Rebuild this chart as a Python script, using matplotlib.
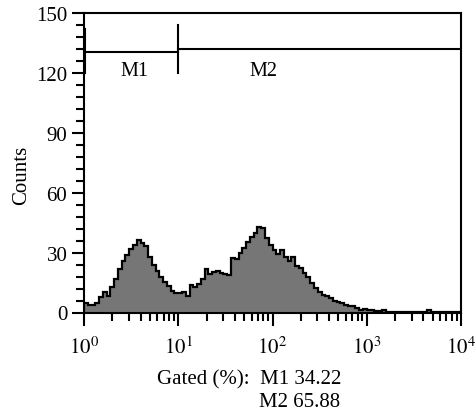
import numpy as np
import matplotlib.pyplot as plt
from matplotlib.ticker import MultipleLocator, LogLocator, NullFormatter

plt.rcParams['font.family'] = ['Liberation Serif', 'DejaVu Serif']
plt.rcParams['mathtext.fontset'] = 'stix'

# histogram: 100 channels, each 0.04 decade wide, from 10^0 to 10^4
counts = [5, 4, 4, 5, 8, 10.5, 8.5, 13, 17, 22,
          26, 29, 32, 34, 36.5, 35, 33.5, 28, 24, 21,
          18, 15.5, 13.5, 11, 10, 10, 10.5, 8.5, 14, 13,
          14.5, 17, 22, 19.5, 20.5, 21, 20, 19.5, 19, 27.5,
          27, 30, 32.5, 35.5, 38, 40, 43, 42.5, 37.5, 34,
          31.5, 29.5, 31.5, 28, 26, 28, 23.5, 22.5, 20, 18,
          15, 12.5, 10.5, 9, 8.5, 7.5, 6, 5.5, 5, 4,
          3.5, 3.5, 2.5, 1.5, 2, 1.5, 1.5, 1, 1, 1.5,
          0.5, 0.5, 0.5, 0.5, 0.5, 0.5, 0.5, 0.5, 0.5, 0.5,
          0.5, 1.5, 0.5, 0.5, 0.5, 0.5, 0.5, 0.5, 0.5, 0.5]
edges = 10 ** (np.arange(len(counts) + 1) * 0.04)

# gates
m1_range = (1.02, 10)
m2_range = (10, 10000)
m1_level = 130.5
m2_level = 132
pcts = {"M1": 34.22, "M2": 65.88}

fig = plt.figure(figsize=(4.75, 4.14), dpi=100)
ax = fig.add_axes([84 / 475, 1 - 313.5 / 414, (461 - 84) / 475, (313.5 - 14) / 414])

ax.stairs(counts, edges, fill=True, color='#767676', lw=0)
ax.stairs(counts, edges, color='black', lw=1.6)

# gate markers
ax.plot(m1_range, [m1_level, m1_level], color='black', lw=1.5)
ax.plot([m1_range[0]] * 2, [120, 142], color='black', lw=1.5)
ax.plot([m1_range[1]] * 2, [120, 144], color='black', lw=1.5)
ax.plot(m2_range, [m2_level, m2_level], color='black', lw=1.5)
ax.text(3.4, 121, "M1", ha='center', va='center', fontsize=14.5)
ax.text(80, 121, "M2", ha='center', va='center', fontsize=14.5)

ax.set_xscale('log')
ax.set_xlim(1, 10000)
ax.set_ylim(0, 150)
ax.set_xticks([1, 10, 100, 1000, 10000])
ax.set_xticklabels([r'$10^{0}$', r'$10^{1}$', r'$10^{2}$', r'$10^{3}$', r'$10^{4}$'])
ax.xaxis.set_minor_locator(LogLocator(base=10, subs=np.arange(2, 10)))
ax.xaxis.set_minor_formatter(NullFormatter())
ax.yaxis.set_major_locator(MultipleLocator(30))
ax.yaxis.set_minor_locator(MultipleLocator(6))

for s in ax.spines.values():
    s.set_linewidth(1.5)
ax.tick_params(which='major', length=9, width=1.5, labelsize=15, direction='out', pad=3)
ax.tick_params(which='minor', length=5.5, width=1.5, direction='out')
ax.tick_params(axis='x', which='major', pad=8)

fig.text(22 / 475, 1 - 175 / 414, "Counts", rotation=90, ha='center', va='center', fontsize=15)
fig.text(157 / 475, 1 - 380 / 414, "Gated (%%):  M1 %.2f" % pcts["M1"], ha='left', va='center', fontsize=15)
fig.text(259 / 475, 1 - 403 / 414, "M2 %.2f" % pcts["M2"], ha='left', va='center', fontsize=15)

fig.savefig("out.png", dpi=100)
plt.close()
